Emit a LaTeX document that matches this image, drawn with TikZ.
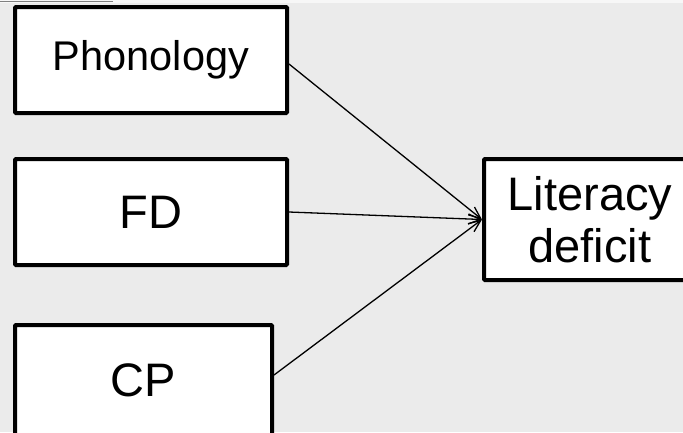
\documentclass[tikz,border=0pt]{standalone}
\usepackage{fontspec}
\setmainfont{Liberation Sans}
\usetikzlibrary{arrows.meta}
\definecolor{bgc}{HTML}{EBEBEB}
\begin{document}
\begin{tikzpicture}[x=1pt,y=-1pt,
  box/.style={draw=black,fill=white,line width=4pt,inner sep=0pt,rounded corners=1pt,align=center},
  conn/.style={line width=1.3pt,-{Straight Barb[length=12pt,width=10pt,line width=1.3pt]}}]
\useasboundingbox (0,0) rectangle (683,432);
\begin{scope}
\clip (0,0) rectangle (683,432);
\fill[bgc] (0,0) rectangle (683,432);
\fill[white!60!bgc] (0,0) rectangle (683,3);
\draw[gray,line width=1.5pt] (0,1.5) -- (113,1.5);
\node[box,minimum width=272pt,minimum height=106pt,font=\fontsize{41.5}{47}\selectfont] (phon) at (151,60) {Phonology};
\node[box,minimum width=272pt,minimum height=106pt,font=\fontsize{47}{52}\selectfont] (fd) at (151,212) {FD};
\node[box,minimum width=257pt,minimum height=110pt,font=\fontsize{47}{52}\selectfont] (cp) at (143.5,380) {CP};
\node[box,minimum width=212pt,minimum height=121pt,font=\fontsize{47}{52}\selectfont] (lit) at (590,219.5) {Literacy\\deficit};
\draw[conn] ([yshift=-4pt]phon.east) -- (lit.west);
\draw[conn] (fd.east) -- (lit.west);
\draw[conn] ([yshift=5pt]cp.east) -- (lit.west);
\end{scope}
\end{tikzpicture}
\end{document}
